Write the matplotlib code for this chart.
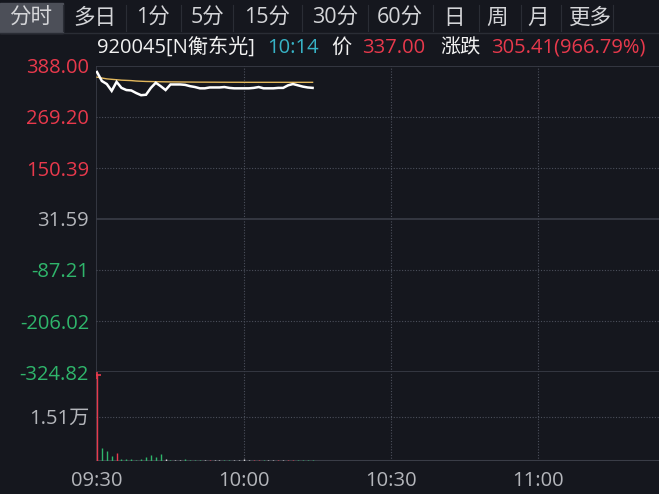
import matplotlib
matplotlib.use("Agg")
import matplotlib.pyplot as plt
from matplotlib.patches import Rectangle

plt.rcParams["font.family"] = ["Open Sans", "Noto Sans CJK SC", "DejaVu Sans"]

# minutes after 09:30
minutes = list(range(45))
price = [374, 353, 346, 330, 351, 337, 332, 331, 325, 320,
         321, 337, 349, 341, 332, 345, 345, 345, 344, 341,
         339, 336, 336, 338, 338, 338, 339, 337, 336, 336,
         336, 336, 337, 339, 336, 336, 336, 337, 337, 343,
         346, 343, 340, 338, 337]
avg_price = [362, 360, 358, 357, 356, 355, 354.5, 354, 353, 352.5,
             352, 351.8, 351.5, 351.3, 351.1, 351, 350.9, 350.8, 350.7, 350.6,
             350.5, 350.4, 350.4, 350.3, 350.3, 350.2, 350.2, 350.1, 350.1, 350.1,
             350, 350, 350, 350, 350, 350, 350, 350, 350, 350,
             350, 350, 350, 350, 350]
volume = [29150, 4300, 3400, 1800, 2600, 700, 600, 600, 500, 600,
          1500, 2000, 1400, 2300, 600, 500, 500, 500, 600, 500,
          500, 400, 500, 400, 400, 400, 400, 400, 400, 500,
          600, 400, 400, 400, 400, 400, 400, 400, 400, 500,
          500, 400, 400, 400, 400]
vol_color = ["r", "g", "g", "g", "r", "g", "g", "g", "g", "g",
             "g", "g", "g", "g", "w", "g", "w", "w", "g", "g",
             "g", "g", "w", "r", "w", "w", "g", "g", "w", "w",
             "w", "w", "r", "r", "g", "w", "w", "r", "w", "r",
             "r", "g", "g", "g", "g"]

price_ticks = [388.00, 269.20, 150.39, 31.59, -87.21, -206.02, -324.82]
prev_close = 31.59
time_ticks = [0, 30, 60, 90]
time_labels = ["09:30", "10:00", "10:30", "11:00"]
tabs = ["分时", "多日", "1分", "5分", "15分", "30分", "60分", "日", "周", "月", "更多"]
tab_x = [31, 95, 153, 207, 267, 335, 400, 454, 497, 538, 590]
tab_sep = [63, 126, 181, 233, 302, 368, 433, 479, 521, 561, 613]

BG = "#15171e"
GRID = "#3a3d47"
DOT = "#4b4f5b"
RED = "#e8394c"
GREEN = "#2fb56b"
GRAY = "#b4b6bb"
WHITE = "#f2f2f2"
TEAL = "#37b3c6"
colors = {"r": RED, "g": GREEN, "w": "#d8d8d8"}
FS = 14.5

W, H = 659, 494
fig = plt.figure(figsize=(W / 100, H / 100), dpi=100, facecolor=BG)


def fx(x):
    return x / W


def fy(y):
    return 1 - y / H


# top tab bar
fig.patches.append(Rectangle((fx(0), fy(33)), fx(63), 30 / H,
                             transform=fig.transFigure, color="#4c4f58", zorder=0))
for x in tab_sep:
    fig.add_artist(plt.Line2D([fx(x), fx(x)], [fy(31), fy(5)], color="#2a2d35", lw=0.8))
fig.add_artist(plt.Line2D([0, 1], [fy(33), fy(33)], color="#2a2d35", lw=1))
for t, x in zip(tabs, tab_x):
    fig.text(fx(x), fy(18), t, color="#d4d5d8", fontsize=15.5, ha="center", va="center")

# info line
info = [("920045[N衡东光]", 97, WHITE), ("10:14", 267, TEAL), ("价", 331, WHITE),
        ("337.00", 362, RED), ("涨跌", 440, WHITE), ("305.41(966.79%)", 491, RED)]
for t, x, c in info:
    fig.text(fx(x), fy(48), t, color=c, fontsize=FS, ha="left", va="center")

left = fx(96)
ax = fig.add_axes([left, fy(372), 1 - left, (372 - 66) / H], facecolor=BG)
axv = fig.add_axes([left, fy(461), 1 - left, (461 - 372) / H], facecolor=BG)

xmax = (W - 97) / 4.9
for a in (ax, axv):
    a.set_xlim(-0.2, xmax)
    for s in a.spines.values():
        s.set_visible(False)
    a.tick_params(length=0)
    for t in time_ticks[1:]:
        a.axvline(t, color=DOT, lw=0.8, ls=(0, (1, 1.5)), zorder=1)
    a.axvline(-0.2, color=GRID, lw=1.2, zorder=1)

# price panel
ax.set_ylim(price_ticks[-1], price_ticks[0])
ax.set_yticks(price_ticks)
ax.set_yticklabels([f"{v:.2f}" for v in price_ticks], fontsize=FS)
for lbl, v in zip(ax.get_yticklabels(), price_ticks):
    lbl.set_color(RED if v > prev_close + 0.01 else (GREEN if v < prev_close - 0.01 else GRAY))
ax.tick_params(axis="y", pad=5)
ax.set_xticks([])
for v in price_ticks[1:-1]:
    if abs(v - prev_close) < 0.01:
        ax.axhline(v, color=GRID, lw=1.2, zorder=1)
    else:
        ax.axhline(v, color=DOT, lw=0.8, ls=(0, (1, 1.5)), zorder=1)
ax.axhline(price_ticks[0], color=GRID, lw=1.2, zorder=1)
ax.axhline(price_ticks[-1], color=GRID, lw=1.2, zorder=1)
ax.plot(minutes, avg_price, color="#e3b85c", lw=1.0, zorder=3)
ax.plot(minutes, price, color="white", lw=1.8, zorder=4, solid_joinstyle="miter")

# volume panel
vmax = 30200
axv.set_ylim(0, vmax)
axv.set_yticks([vmax / 2])
axv.set_yticklabels(["1.51万"], fontsize=FS, color=GRAY)
axv.tick_params(axis="y", pad=5)
axv.axhline(vmax / 2, color=DOT, lw=0.8, ls=(0, (1, 1.5)), zorder=1)
axv.axhline(0, color=GRID, lw=1.5, zorder=1)
axv.vlines(minutes, 0, volume, colors=[colors[c] for c in vol_color], lw=1.0, zorder=3)
axv.plot([0], [volume[0]], marker="+", color=RED, ms=6, mew=1.2, zorder=4)
axv.set_xticks(time_ticks)
axv.set_xticklabels(time_labels, fontsize=FS, color=GRAY)
axv.tick_params(axis="x", pad=7)

fig.savefig("out.png", dpi=100, facecolor=BG)
